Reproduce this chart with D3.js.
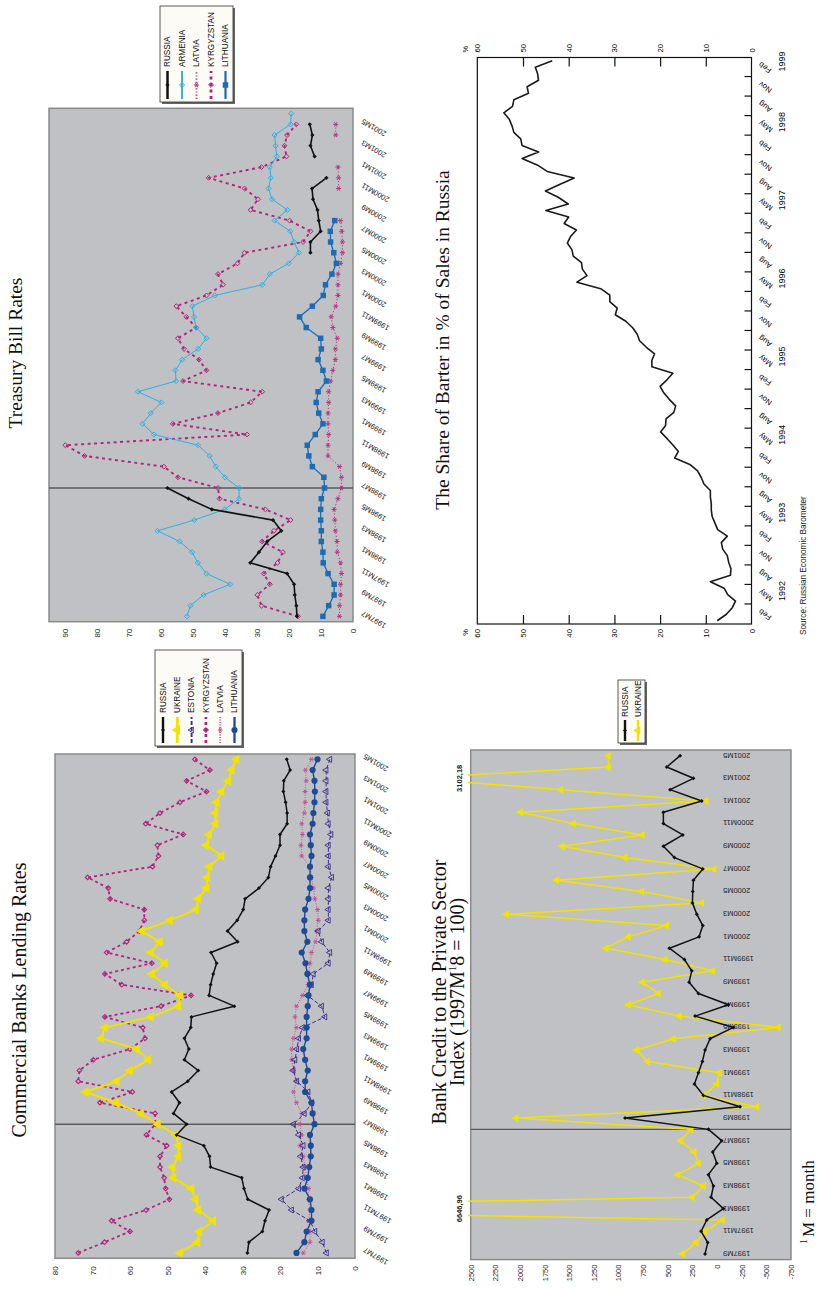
<!DOCTYPE html>
<html>
<head>
<meta charset="utf-8">
<script src="https://cdn.jsdelivr.net/npm/d3@7/dist/d3.min.js"></script>
<style>
  body { margin: 0; background: #fff; }
  svg { display: block; }
</style>
</head>
<body>
<svg id="page" width="817" height="1289"></svg>
<script>
// month labels like 1997M7, one per month
function monthSeq(year, month, n) {
  const out = [];
  for (let i = 0; i < n; i++) {
    out.push(year + 'M' + month);
    month++;
    if (month > 12) { month = 1; year++; }
  }
  return out;
}

// ---- Treasury Bill Rates ----
const tbMonths = monthSeq(1997, 7, 48);
const tbTickLabels = tbMonths.filter((d, i) => i % 2 === 0);
const tbValueTicks = [0, 10, 20, 30, 40, 50, 60, 70, 80, 90];
const tbRussia = [17.5, 17.7, 18.2, 18.4, 20.6, 32.1, 29.4, 26.8, 22.4, 25.0, 44.1, 51.4, 58.0,
  null, null, null, null, null, null, null, null, null, null, null, null, null, null, null, null, null, null, null, null, null,
  13.3, 13.3, 10.1, 10.7, 11.1, 12.5, 12.8, 8.3, null, 12.0, 13.3, 12.7, 13.5];
const tbArmenia = [51.9, 50.8, 46.7, 38.4, 45.8, 48.5, 50.3, 54.2, 61.1, 49.6, 40.1, 35.6, 35.6, 40.0, 42.9, 44.8,
  48.4, 62.2, 65.8, 63.2, 59.9, 67.2, 55.3, 55.5, 53.4, 48.4, 45.8, 49.0, 49.7, 50.2, 43.2, 28.3, 26.0, 20.1,
  16.9, 18.4, 19.6, 24.5, 20.5, 25.3, 26.4, 25.7, 26.0, 23.8, 24.2, 24.5, 19.5, 19.3];
const tbLatvia = [4.2, 4.2, 3.9, 3.9, 3.6, 3.9, 4.9, 5.0, 5.5, 5.7, 5.9, 4.7, 3.6, 3.6, 4.2, 7.8, 7.8, 7.6, 7.8,
  7.8, 7.6, 7.6, 7.0, 6.3, 5.5, 5.5, 4.9, 6.3, 6.8, 5.4, 4.7, 4.7, 4.7, 3.9, 3.3, 3.3, 3.5, 3.9, null, null,
  4.5, 4.5, 4.7, null, null, 5.4, 5.4, null];
const tbKyrgyzstan = [17.2, 28.6, 29.9, 26.0, 27.9, 23.6, 21.9, 28.4, 24.7, 19.5, 27.4, 41.7, 42.2, 54.7, 59.1,
  83.9, 89.9, 33.1, 56.3, 42.2, 32.0, 28.4, 53.1, 45.8, 48.1, 52.8, 54.7, 49.0, 52.1, 55.2, 45.8, 40.6, 42.2,
  36.1, 33.9, 15.6, 13.3, 19.8, 32.0, 29.7, 33.9, 45.1, 28.6, 20.8, 21.4, 20.6, 17.7, null];
const tbLithuania = [9.4, 7.6, 5.9, 5.9, 7.8, 9.3, 9.4, 9.9, 9.9, 10.1, 10.1, 9.9, 8.9, 9.1, 12.7, 13.8, 14.3,
  11.8, 9.4, 10.7, 11.5, 10.9, 8.3, 9.4, 10.9, 9.9, 10.1, 14.6, 16.7, 12.7, 9.3, 8.6, 6.6, 5.2, 6.0, 7.0, 7.1,
  5.7, null, null, null, null, null, null, null, null, null, null];

// ---- Commercial Banks Lending Rates ----
const cbMonths = monthSeq(1997, 7, 47);
const cbTickLabels = cbMonths.filter((d, i) => i % 2 === 0);
const cbValueTicks = [0, 10, 20, 30, 40, 50, 60, 70, 80];
const cbRussia = [28.7, 28.3, 24.7, 24.0, 22.9, 28.6, 29.6, 30.2, 38.5, 38.8, 40.3, 47.6, 44.9, 48.4, 46.8, 48.9,
  44.6, 41.8, 45.5, 44.3, 45.5, 43.8, 43.6, 32.2, 38.9, 38.5, 37.8, 36.9, 38.4, 31.3, 34.0, 31.4, 29.8, 29.3,
  25.6, 23.1, 22.5, 21.2, 20.0, 20.0, 18.1, 18.1, 18.5, 19.1, 19.0, 17.3, 18.2];
const cbUkraine = [46.7, 42.0, 41.5, 37.8, 41.8, 42.5, 43.6, 48.4, 48.6, 47.1, 47.1, 47.7, 52.6, 57.1, 63.7, 71.8,
  63.6, 60.0, 55.1, 58.2, 67.7, 66.7, 54.4, 47.1, 46.7, 50.7, 54.2, 50.7, 54.4, 52.0, 56.9, 49.3, 42.4, 41.8,
  39.6, 39.4, 38.8, 35.6, 39.6, 38.9, 37.2, 37.2, 36.9, 35.6, 33.8, 32.9, 31.6];
const cbEstonia = [7.6, 8.7, 10.7, 12.0, 16.9, 19.6, 15.0, 14.0, 13.8, 14.5, 13.8, 15.0, 16.4, 13.5, 11.5, 12.5,
  15.5, 16.5, 16.0, 15.5, 15.0, 14.0, 8.0, 8.9, 12.7, 11.6, 11.1, 7.1, 6.7, 8.9, 9.8, 7.1, 7.1, 7.1, 7.1, 6.2,
  7.1, 7.1, 7.1, 6.4, 7.1, 7.3, 7.7, 7.7, 7.7, 7.7, 6.7];
const cbKyrgyzstan = [73.8, 66.8, 60.0, 64.9, 55.7, 49.5, 50.5, 50.9, 52.0, 52.0, 50.2, 55.6, 53.3, 53.3, 68.0,
  59.4, 73.8, 73.5, 69.8, 60.0, 56.0, 56.6, 66.7, 51.7, 43.7, 62.2, 66.7, 54.2, 66.2, 60.9, 57.5, 56.2, 56.2,
  65.3, 65.8, 71.3, 54.0, 52.4, 52.7, 45.8, 55.8, 52.0, 46.7, 39.6, 44.9, 38.7, 42.7];
const cbLatvia = [13.8, 12.0, 12.0, 12.4, 12.0, 12.4, 12.4, 12.9, 13.3, 13.8, 14.7, 14.2, 14.7, 14.2, 15.6, 16.4,
  15.6, 16.4, 16.9, 16.9, 16.4, 15.6, 16.0, 15.6, 14.0, 12.5, 12.4, 12.0, 11.6, 10.5, 10.2, 9.8, 10.0, 10.7,
  11.1, 11.6, 12.0, 14.2, 14.4, 14.0, 14.2, 13.5, 13.3, 13.3, 13.0, 13.2, 11.6];
const cbLithuania = [15.6, 13.5, 12.9, 11.6, 11.6, 12.0, 13.5, 12.6, 12.2, 11.8, 11.8, 12.0, 10.8, 11.3, 11.6,
  13.3, 13.3, 12.6, 13.3, 13.8, 12.9, 12.9, 12.9, 12.6, 12.4, 12.0, 12.7, 13.2, 14.2, 12.7, 13.5, 13.5, 13.3,
  12.4, 12.0, 12.0, 12.0, 11.6, 11.8, 12.0, 11.3, 11.1, 10.8, 10.7, 10.8, 11.3, 10.0];

// ---- Bank Credit to the Private Sector ----
const bcMonths = monthSeq(1997, 9, 45);
const bcTickLabels = bcMonths.filter((d, i) => i % 2 === 0);
const bcValueTicks = [-750, -500, -250, 0, 250, 500, 750, 1000, 1250, 1500, 1750, 2000, 2250, 2500];
const bcRussia = [122, 95, 162, 105, -64, 61, 37, 88, 3, 44, -47, 88, 934, -233, 139, 230, 189, 149, 122, 71,
  -166, 223, -115, 189, 284, 257, 331, 484, 183, 145, 206, 250, 247, 240, 145, 433, 545, 348, 545, 545, 156,
  477, 240, 511, 375];
const bcUkraine = [352, 213, 122, -54, 6646.96, 250, 139, 399, 189, 233, 369, 264, 2040, -403, 139, 3, -24, 704,
  815, 443, -622, 382, 900, 595, 758, 44, 528, 1127, 900, 511, 2135, 156, 765, 1627, 30, 934, 1570, 758, 1458,
  1993, 112, 1583, 3102.18, 1103, 1103];
const bcOffScale = [{ month: '1998M1', label: '6646,96' }, { month: '2001M3', label: '3102,18' }];

// ---- Share of barter (monthly from Jan 1992) ----
const barterShare = [7.5, 5.5, 4.2, 3.5, 5.2, 6.0, 9.0, 4.6, 4.5, 5.0, 5.3, 6.3, 6.6, 5.3, 7.4, 8.0, 8.6, 8.8,
  8.8, 9.0, 9.0, 10.4, 11.0, 11.8, 13.5, 16.8, 16.0, 17.2, 18.5, 19.9, 18.8, 18.7, 17.0, 16.6, 18.0, 19.2,
  20.0, 18.5, 17.2, 21.8, 21.8, 21.2, 23.0, 24.5, 25.0, 26.0, 27.5, 29.8, 29.4, 31.0, 31.0, 33.0, 38.2, 36.0,
  37.0, 37.2, 39.0, 39.3, 40.3, 39.6, 38.3, 41.0, 40.0, 45.0, 40.1, 42.2, 45.1, 42.0, 38.8, 44.7, 46.9, 50.2,
  46.6, 50.2, 50.5, 52.0, 52.4, 53.0, 54.2, 52.3, 52.0, 48.8, 49.1, 46.6, 46.8, 47.3, 43.6];
const barterQuarters = ['Feb', 'May', 'Aug', 'Nov'];
const barterQuarterLabels = d3.range(29).map(q => barterQuarters[q % 4]);
const barterYears = [1992, 1993, 1994, 1995, 1996, 1997, 1998, 1999];
const barterValueTicks = [0, 10, 20, 30, 40, 50, 60];

const SANS = '"Liberation Sans", Arial, sans-serif';
const SERIF = '"Liberation Serif", "Times New Roman", serif';
const PLOT_BG = '#c0c1c4';

const svg = d3.select('#page');

// every panel is drawn upright and then turned a quarter turn, as on the page
function panel(tx, ty) {
  return svg.append('g').attr('transform', `translate(${tx},${ty}) rotate(-90)`);
}

const symDiamond = { draw(c, s) { const r = Math.sqrt(s) / 2; c.moveTo(0, -r); c.lineTo(r, 0); c.lineTo(0, r); c.lineTo(-r, 0); c.closePath(); } };
const symStar = { draw(c, s) { const r = Math.sqrt(s) / 2, a = r * 0.87, b = r * 0.5; c.moveTo(0, -r); c.lineTo(0, r); c.moveTo(-a, -b); c.lineTo(a, b); c.moveTo(-a, b); c.lineTo(a, -b); } };

function drawSeries(g, x, y, cats, vals, st) {
  const pts = cats.map((c, i) => [x(c), vals[i]]);
  g.append('path').datum(pts)
    .attr('d', d3.line().defined(d => d[1] != null).x(d => d[0]).y(d => y(d[1])))
    .attr('fill', 'none').attr('stroke', st.color).attr('stroke-width', st.width)
    .attr('stroke-dasharray', st.dash || null).attr('stroke-linejoin', 'round');
  g.append('g').selectAll('path').data(pts.filter(d => d[1] != null)).join('path')
    .attr('transform', d => `translate(${d[0]},${y(d[1])})`)
    .attr('d', d3.symbol().type(st.sym).size(st.size))
    .attr('fill', st.fill).attr('stroke', st.stroke || 'none').attr('stroke-width', st.sw || 1);
}

function legend(g, box, rows, firstY, rowH, lx0, lx1, tx) {
  g.append('rect').attr('x', box[0] - 2).attr('y', box[1] + 2).attr('width', box[2]).attr('height', box[3]).attr('fill', '#666');
  g.append('rect').attr('x', box[0]).attr('y', box[1]).attr('width', box[2]).attr('height', box[3])
    .attr('fill', '#fcfbf6').attr('stroke', '#333').attr('stroke-width', 0.8);
  rows.forEach((r, i) => {
    const cy = firstY + i * rowH;
    g.append('line').attr('x1', lx0).attr('x2', lx1).attr('y1', cy).attr('y2', cy)
      .attr('stroke', r.st.color).attr('stroke-width', r.st.width + 0.9).attr('stroke-dasharray', r.st.dash || null);
    g.append('path').attr('transform', `translate(${(lx0 + lx1) / 2},${cy})`)
      .attr('d', d3.symbol().type(r.st.sym).size(r.st.size))
      .attr('fill', r.st.fill).attr('stroke', r.st.stroke || 'none').attr('stroke-width', r.st.sw || 1);
    g.append('text').attr('x', tx).attr('y', cy).attr('dy', '0.35em').text(r.name)
      .attr('font-family', SANS).attr('font-size', 8.2).attr('fill', '#111');
  });
}

function valueAxis(g, scale, ticks, x, pad, size) {
  g.append('g').attr('transform', `translate(${x},0)`)
    .call(d3.axisLeft(scale).tickValues(ticks).tickSize(0).tickPadding(pad).tickFormat(d => String(d)))
    .call(a => a.select('.domain').remove())
    .attr('font-family', SANS).attr('font-size', size)
    .call(a => a.selectAll('text').attr('fill', '#222'));
}

function categoryAxis(g, scale, ticks, y, transform, size) {
  g.append('g').attr('transform', `translate(0,${y})`)
    .call(d3.axisBottom(scale).tickValues(ticks).tickSize(0))
    .call(a => a.select('.domain').remove())
    .attr('font-family', SANS).attr('font-size', size)
    .call(a => a.selectAll('text').attr('y', 0).attr('dy', '0.35em').attr('text-anchor', 'end')
      .attr('fill', '#222').attr('transform', transform));
}

function title(g, x, y, txt, size) {
  g.append('text').attr('x', x).attr('y', y).attr('text-anchor', 'middle')
    .attr('font-family', SERIF).attr('font-size', size).attr('fill', '#111').text(txt);
}

// =============== Treasury Bill Rates ===============
{
  const TB = { left: 18.3, right: 531.7, top: 49, bottom: 353 };
  const g = panel(0, 640);
  const x = d3.scalePoint().domain(tbMonths).range([TB.left, TB.right]).padding(0.5);
  const y = d3.scaleLinear().domain([0, 95]).range([TB.bottom, TB.top]);
  g.append('rect').attr('x', TB.left).attr('y', TB.top).attr('width', TB.right - TB.left).attr('height', TB.bottom - TB.top)
    .attr('fill', PLOT_BG).attr('stroke', '#8a8a8a').attr('stroke-width', 1.5);
  g.append('line').attr('x1', x('1998M7')).attr('x2', x('1998M7')).attr('y1', TB.top).attr('y2', TB.bottom)
    .attr('stroke', '#5a5a5a').attr('stroke-width', 1.4);
  const st = {
    russia: { color: '#111', width: 1.6, sym: symDiamond, size: 18, fill: '#111' },
    armenia: { color: '#2cb1e4', width: 1, sym: symDiamond, size: 26, fill: 'none', stroke: '#2cb1e4', sw: 1 },
    latvia: { color: '#b83282', width: 1, dash: '1.2,2', sym: symStar, size: 26, fill: 'none', stroke: '#b83282', sw: 1 },
    kyrgyz: { color: '#b0247c', width: 1.9, dash: '3,3.5', sym: symDiamond, size: 24, fill: 'none', stroke: '#b0247c', sw: 1 },
    lithuania: { color: '#1a6cb5', width: 1.3, sym: d3.symbolSquare, size: 30, fill: '#1a6cb5' }
  };
  drawSeries(g, x, y, tbMonths, tbLatvia, st.latvia);
  drawSeries(g, x, y, tbMonths, tbKyrgyzstan, st.kyrgyz);
  drawSeries(g, x, y, tbMonths, tbArmenia, st.armenia);
  drawSeries(g, x, y, tbMonths, tbLithuania, st.lithuania);
  drawSeries(g, x, y, tbMonths, tbRussia, st.russia);
  valueAxis(g, y, tbValueTicks, TB.left, 7, 8);
  categoryAxis(g, x, tbTickLabels, TB.bottom, 'translate(3,9) rotate(-60)', 7.5);
  title(g, 287, 22, 'Treasury Bill Rates', 19.5);
  legend(g, [538, 160, 96, 73], [
    { name: 'RUSSIA', st: st.russia }, { name: 'ARMENIA', st: st.armenia }, { name: 'LATVIA', st: st.latvia },
    { name: 'KYRGYZSTAN', st: st.kyrgyz }, { name: 'LITHUANIA', st: st.lithuania }
  ], 167.5, 14.5, 541, 569, 573);
}

// =============== Commercial Banks Lending Rates ===============
{
  const CB = { left: 30.7, right: 535, top: 55, bottom: 355 };
  const g = panel(0, 1289);
  const x = d3.scalePoint().domain(cbMonths).range([CB.left, CB.right]).padding(0.5);
  const y = d3.scaleLinear().domain([0, 80]).range([CB.bottom, CB.top]);
  g.append('rect').attr('x', CB.left).attr('y', CB.top).attr('width', CB.right - CB.left).attr('height', CB.bottom - CB.top)
    .attr('fill', PLOT_BG).attr('stroke', '#8a8a8a').attr('stroke-width', 1.5);
  g.append('line').attr('x1', x('1998M7')).attr('x2', x('1998M7')).attr('y1', CB.top).attr('y2', CB.bottom)
    .attr('stroke', '#5a5a5a').attr('stroke-width', 1.4);
  const st = {
    russia: { color: '#111', width: 1.5, sym: symDiamond, size: 16, fill: '#111' },
    ukraine: { color: '#f2e200', width: 2, sym: d3.symbolTriangle, size: 42, fill: '#f2e200' },
    estonia: { color: '#3a2e8c', width: 1, dash: '4,2', sym: d3.symbolTriangle, size: 16, fill: 'none', stroke: '#3a2e8c', sw: 0.9 },
    kyrgyz: { color: '#b0247c', width: 1.8, dash: '3,3', sym: symDiamond, size: 22, fill: 'none', stroke: '#b0247c', sw: 1.1 },
    latvia: { color: '#c4508e', width: 1, dash: '1,1.5', sym: symStar, size: 24, fill: 'none', stroke: '#c4508e', sw: 1 },
    lithuania: { color: '#1f4a96', width: 1.4, sym: d3.symbolCircle, size: 30, fill: '#1f4a96' }
  };
  drawSeries(g, x, y, cbMonths, cbKyrgyzstan, st.kyrgyz);
  drawSeries(g, x, y, cbMonths, cbLatvia, st.latvia);
  drawSeries(g, x, y, cbMonths, cbEstonia, st.estonia);
  drawSeries(g, x, y, cbMonths, cbLithuania, st.lithuania);
  drawSeries(g, x, y, cbMonths, cbUkraine, st.ukraine);
  drawSeries(g, x, y, cbMonths, cbRussia, st.russia);
  valueAxis(g, y, cbValueTicks, CB.left, 8, 8);
  categoryAxis(g, x, cbTickLabels, CB.bottom, 'translate(3,9) rotate(-60)', 7.5);
  title(g, 289, 26, 'Commercial Banks Lending Rates', 20);
  legend(g, [543, 155, 96, 87], [
    { name: 'RUSSIA', st: st.russia }, { name: 'UKRAINE', st: st.ukraine }, { name: 'ESTONIA', st: st.estonia },
    { name: 'KYRGYZSTAN', st: st.kyrgyz }, { name: 'LATVIA', st: st.latvia }, { name: 'LITHUANIA', st: st.lithuania }
  ], 163, 14.3, 546, 572, 576);
}

// =============== Bank Credit to the Private Sector ===============
{
  const BC = { left: 29.4, right: 539, top: 60.7, bottom: 381 };
  const g = panel(410, 1289);
  const x = d3.scalePoint().domain(bcMonths).range([BC.left, BC.right]).padding(0.5);
  const y = d3.scaleLinear().domain([-750, 2500]).range([BC.bottom, BC.top]);
  g.append('rect').attr('x', BC.left).attr('y', BC.top).attr('width', BC.right - BC.left).attr('height', BC.bottom - BC.top)
    .attr('fill', PLOT_BG).attr('stroke', '#8a8a8a').attr('stroke-width', 1.5);
  g.append('clipPath').attr('id', 'bcClip').append('rect')
    .attr('x', BC.left).attr('y', BC.top - 2.5).attr('width', BC.right - BC.left).attr('height', BC.bottom - BC.top + 2.5);
  g.append('line').attr('x1', x('1998M8')).attr('x2', x('1998M8')).attr('y1', BC.top).attr('y2', BC.bottom)
    .attr('stroke', '#5a5a5a').attr('stroke-width', 1.4);
  categoryAxis(g, x, bcTickLabels, y(0), 'translate(0,6) rotate(-90)', 7.5);
  const st = {
    russia: { color: '#111', width: 1.5, sym: symDiamond, size: 16, fill: '#111' },
    ukraine: { color: '#f2e200', width: 1.5, sym: d3.symbolTriangle, size: 28, fill: '#f2e200' }
  };
  const clip = g.append('g').attr('clip-path', 'url(#bcClip)');
  drawSeries(clip, x, y, bcMonths, bcUkraine, st.ukraine);
  drawSeries(clip, x, y, bcMonths, bcRussia, st.russia);
  valueAxis(g, y, bcValueTicks, BC.left, 5, 7.5);
  g.append('g').selectAll('text').data(bcOffScale).join('text')
    .attr('x', d => x(d.month)).attr('y', 52).attr('text-anchor', 'middle')
    .attr('font-family', SANS).attr('font-size', 7.5).attr('font-weight', 'bold').attr('fill', '#222')
    .text(d => d.label);
  title(g, 297, 36, 'Bank Credit to the Private Sector', 20);
  const t2 = g.append('text').attr('x', 297).attr('y', 54).attr('text-anchor', 'middle')
    .attr('font-family', SERIF).attr('font-size', 20).attr('fill', '#111');
  t2.append('tspan').text('Index (1997M');
  t2.append('tspan').attr('font-size', 11).attr('dy', -8).text('1');
  t2.append('tspan').attr('dy', 8).text('8 = 100)');
  legend(g, [546, 208, 63, 27], [
    { name: 'RUSSIA', st: st.russia }, { name: 'UKRAINE', st: st.ukraine }
  ], 215, 13, 548, 569, 572);
  const fn = g.append('text').attr('x', 45).attr('y', 404)
    .attr('font-family', SERIF).attr('font-size', 17).attr('fill', '#111');
  fn.append('tspan').attr('font-size', 10).attr('dy', -7).text('1');
  fn.append('tspan').attr('dy', 7).attr('dx', 2).text('M = month');
}

// =============== Share of Barter ===============
{
  const BT = { left: 16, right: 582.5, top: 67.3, bottom: 341.5 };
  const g = panel(410, 640);
  const x = d3.scaleLinear().domain([0, 87]).range([BT.left, BT.right]);
  const y = d3.scaleLinear().domain([0, 60]).range([BT.bottom, BT.top]);
  g.append('rect').attr('x', BT.left).attr('y', BT.top).attr('width', BT.right - BT.left).attr('height', BT.bottom - BT.top)
    .attr('fill', '#fff').attr('stroke', '#111').attr('stroke-width', 1.2);
  // inward ticks on both value sides and along the time axis
  g.append('g').attr('transform', `translate(${BT.left},0)`)
    .call(d3.axisRight(y).tickValues([10, 20, 30, 40, 50]).tickSize(9).tickFormat(''))
    .call(a => a.select('.domain').remove()).selectAll('line').attr('stroke', '#111').attr('stroke-width', 1.2);
  g.append('g').attr('transform', `translate(${BT.right},0)`)
    .call(d3.axisLeft(y).tickValues([10, 20, 30, 40, 50]).tickSize(9).tickFormat(''))
    .call(a => a.select('.domain').remove()).selectAll('line').attr('stroke', '#111').attr('stroke-width', 1.2);
  g.append('g').attr('transform', `translate(0,${BT.bottom})`)
    .call(d3.axisBottom(x).tickValues(d3.range(3, 85, 3)).tickSize(-7).tickFormat(''))
    .call(a => a.select('.domain').remove()).selectAll('line').attr('stroke', '#111').attr('stroke-width', 1.2);
  g.append('path').datum(barterShare)
    .attr('d', d3.line().x((d, i) => x(i + 0.5)).y(d => y(d)))
    .attr('fill', 'none').attr('stroke', '#1a1a1a').attr('stroke-width', 1.6).attr('stroke-linejoin', 'round');
  // value labels at both ends
  g.append('g').attr('transform', `translate(${BT.left},0)`)
    .call(d3.axisLeft(y).tickValues(barterValueTicks).tickSize(0).tickPadding(5))
    .call(a => a.select('.domain').remove())
    .attr('font-family', SANS).attr('font-size', 7.8);
  g.append('g').attr('transform', `translate(${BT.right},0)`)
    .call(d3.axisRight(y).tickValues(barterValueTicks).tickSize(0).tickPadding(5))
    .call(a => a.select('.domain').remove())
    .attr('font-family', SANS).attr('font-size', 7.8);
  g.append('text').attr('x', BT.left - 5).attr('y', BT.top - 9).attr('text-anchor', 'end')
    .attr('font-family', SANS).attr('font-size', 7.5).text('%');
  g.append('text').attr('x', BT.right + 5).attr('y', BT.top - 9)
    .attr('font-family', SANS).attr('font-size', 7.5).text('%');
  // quarter month names and years
  g.append('g').attr('transform', `translate(0,${BT.bottom})`)
    .call(d3.axisBottom(x).tickValues(d3.range(29).map(q => 1.5 + 3 * q)).tickSize(0)
      .tickFormat((d, i) => barterQuarterLabels[i]))
    .call(a => a.select('.domain').remove())
    .attr('font-family', SANS).attr('font-size', 7.8)
    .call(a => a.selectAll('text').attr('y', 0).attr('dy', '0.35em').attr('text-anchor', 'end')
      .attr('transform', 'translate(3,8) rotate(-55)'));
  g.append('g').attr('transform', `translate(0,${BT.bottom})`)
    .call(d3.axisBottom(x).tickValues(barterYears.map((yr, i) => i < 7 ? 5 + 12 * i : 86.3)).tickSize(0)
      .tickPadding(27).tickFormat((d, i) => barterYears[i]))
    .call(a => a.select('.domain').remove())
    .attr('font-family', SANS).attr('font-size', 9);
  title(g, 300, 39, 'The Share of Barter in % of Sales in Russia', 19.5);
  g.append('text').attr('x', 5).attr('y', 396).attr('font-family', SANS).attr('font-size', 8.2)
    .attr('fill', '#222').text('Source: Russian Economic Barometer');
}
</script>
</body>
</html>
